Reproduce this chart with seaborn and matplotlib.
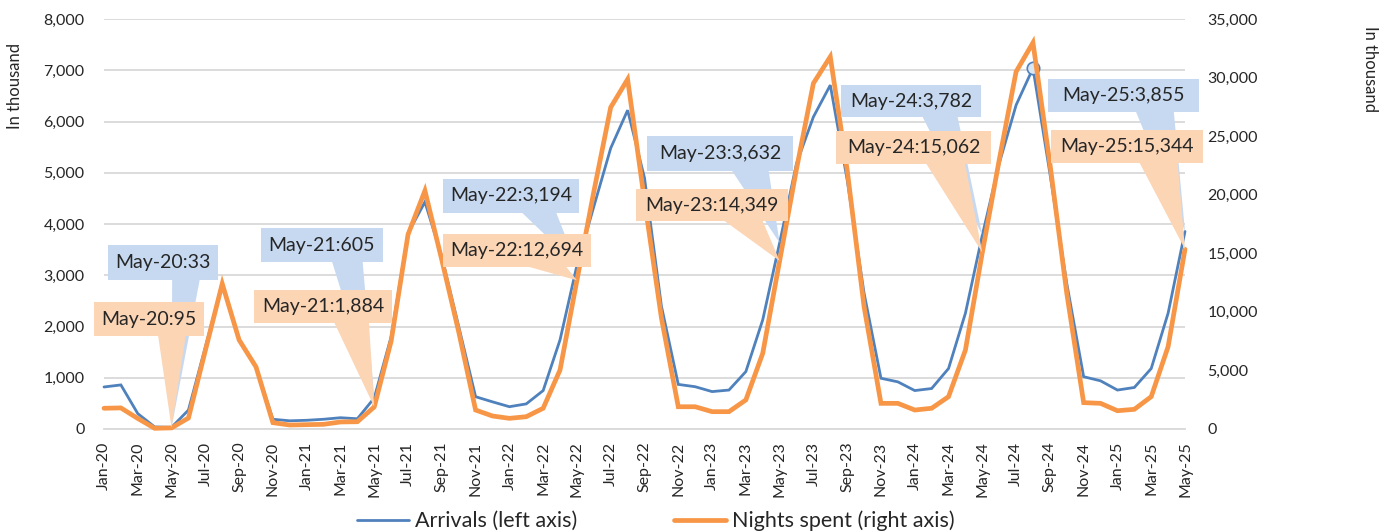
import numpy as np
import pandas as pd
import matplotlib
matplotlib.use('Agg')
import matplotlib.pyplot as plt
import seaborn as sns
from matplotlib.patches import Polygon
from matplotlib.transforms import IdentityTransform

# monthly data, in thousand
months = list(pd.date_range('2020-01-01', '2025-05-01', freq='MS').strftime('%b-%y'))

arrivals = [820, 860, 300, 40, 33, 370, 1600, 2830, 1740, 1210, 190, 160,
            170, 190, 220, 200, 605, 1800, 3820, 4430, 3360, 2000, 630, 530,
            435, 490, 750, 1740, 3194, 4340, 5480, 6220, 4900, 2400, 870, 825,
            730, 760, 1120, 2130, 3632, 5180, 6090, 6710, 4860, 2650, 990, 920,
            750, 790, 1180, 2260, 3782, 5180, 6320, 7040, 4990, 2840, 1020, 940,
            760, 810, 1180, 2260, 3855]

nights = [1770, 1800, 900, 60, 95, 940, 6700, 12400, 7600, 5300, 540, 340,
          370, 400, 600, 620, 1884, 7500, 16600, 20340, 14430, 8300, 1620, 1110,
          910, 1050, 1770, 5040, 12694, 20260, 27460, 29850, 19500, 9500, 1900, 1900,
          1480, 1480, 2480, 6460, 14349, 22200, 29510, 31780, 22100, 10440, 2190, 2190,
          1620, 1770, 2760, 6740, 15062, 22960, 30500, 32980, 22680, 11590, 2250, 2190,
          1560, 1680, 2760, 7030, 15344]

callout_months = ['May-20', 'May-21', 'May-22', 'May-23', 'May-24', 'May-25']
highlight_month = 'Aug-24'

BLUE = '#4f81bd'
ORANGE = '#f79646'
BLUE_BOX = '#c6d9f1'
ORANGE_BOX = '#fcd5b5'

# callout boxes in figure pixels: (left, right, top, bottom), y measured from top
blue_boxes = [(108, 218, 245, 280), (261, 383, 228, 262), (443, 579, 179, 213),
              (647, 793, 136, 171), (841, 981, 85, 117), (1048, 1199, 79, 112)]
orange_boxes = [(94, 204, 302, 336), (254, 392, 290, 323), (443, 591, 234, 267),
                (636, 788, 189, 221), (836, 991, 131, 164), (1051, 1203, 130, 163)]

W, H = 1392, 532
sns.set_style('white')
plt.rcParams['font.family'] = ['Lato', 'DejaVu Sans']

fig = plt.figure(figsize=(W / 100, H / 100), dpi=100)
ax = fig.add_axes([104 / W, 1 - 429 / H, (1185 - 104) / W, (429 - 19) / H])
ax2 = ax.twinx()

x = np.arange(len(months))
sns.lineplot(x=x, y=arrivals, ax=ax, color=BLUE, linewidth=2.0, legend=False)
sns.lineplot(x=x, y=nights, ax=ax2, color=ORANGE, linewidth=3.4, legend=False)
for l in ax.get_lines() + ax2.get_lines():
    l.set_clip_on(False)
    l.set_solid_joinstyle('miter')

hi = months.index(highlight_month)
ax.scatter([hi], [arrivals[hi]], s=80, color='#dbe6f4', edgecolor=BLUE,
           linewidth=1.2, zorder=5, clip_on=False)

ax.set_xlim(0, len(months) - 1)
ax.set_ylim(0, 8000)
ax2.set_ylim(0, 35000)
ax.set_yticks(range(0, 8001, 1000))
ax2.set_yticks(range(0, 35001, 5000))
ax.yaxis.set_major_formatter(matplotlib.ticker.StrMethodFormatter('{x:,.0f}'))
ax2.yaxis.set_major_formatter(matplotlib.ticker.StrMethodFormatter('{x:,.0f}'))

ax.set_xticks(x[::2])
ax.set_xticklabels(months[::2], rotation=90)
ax.set_xticks(x, minor=True)
ax.tick_params(axis='x', which='both', length=4, width=1.2, color='#d9d9d9',
               labelsize=11.5, pad=5)
ax.tick_params(axis='y', length=0, labelsize=11.5, pad=14)
ax2.tick_params(axis='y', length=0, labelsize=11.5, pad=16)

ax.grid(axis='y', color='#d9d9d9', linewidth=1.3)
ax.grid(axis='x', visible=False)
ax.set_axisbelow(True)
for a in (ax, ax2):
    for s in ('left', 'right', 'top'):
        a.spines[s].set_visible(False)
    a.spines['bottom'].set_color('#d9d9d9')
    a.spines['bottom'].set_linewidth(1.3)
ax2.spines['bottom'].set_visible(False)
ax.set_ylabel('')
ax2.set_ylabel('')

fig.text(15 / W, 1 - 86 / H, 'In thousand', rotation=90, ha='center', va='center', fontsize=12)
fig.text(1370 / W, 1 - 69 / H, 'In thousand', rotation=270, ha='center', va='center', fontsize=12)

handles = [ax.get_lines()[0], ax2.get_lines()[0]]
fig.legend(handles, ['Arrivals (left axis)', 'Nights spent (right axis)'],
           loc='center', bbox_to_anchor=(656 / W, 1 - 521 / H), ncol=2, frameon=False,
           fontsize=15.5, handlelength=2.4, handletextpad=0.3, columnspacing=4.5)


def callout_points(l, r, top, bot, tip):
    # rectangle with a wedge pointing at tip (y grows downward)
    w, h = r - l, bot - top
    dx = tip[0] - (l + r) / 2
    dy = tip[1] - (top + bot) / 2
    if abs(dy) - abs(dx * h / w) > 0:
        f1, f2 = (7, 10) if dx > 0 else (2, 5)
        xa, xb = l + w * f1 / 12, l + w * f2 / 12
        if dy > 0:
            return [(l, top), (r, top), (r, bot), (xb, bot), tip, (xa, bot), (l, bot)]
        return [(l, top), (xa, top), tip, (xb, top), (r, top), (r, bot), (l, bot)]
    f1, f2 = (7, 10) if dy > 0 else (2, 5)
    ya, yb = top + h * f1 / 12, top + h * f2 / 12
    if dx > 0:
        return [(l, top), (r, top), (r, ya), tip, (r, yb), (r, bot), (l, bot)]
    return [(l, top), (r, top), (r, bot), (l, bot), (l, yb), tip, (l, ya)]


def add_callout(axis, i, values, box, color, z):
    tx, ty = axis.transData.transform((i, values[i]))
    pts = callout_points(*box, (tx, H - ty))
    poly = Polygon([(px, H - py) for px, py in pts], closed=True, facecolor=color,
                   edgecolor='none', transform=IdentityTransform(), zorder=z)
    fig.add_artist(poly)
    cx = (box[0] + box[1]) / 2
    cy = (box[2] + box[3]) / 2
    fig.text(cx / W, 1 - cy / H, f'{months[i]}:{values[i]:,}', ha='center', va='center',
             fontsize=14, zorder=z + 0.5)


for m, b in zip(callout_months, blue_boxes):
    add_callout(ax, months.index(m), arrivals, b, BLUE_BOX, 5)
for m, b in zip(callout_months, orange_boxes):
    add_callout(ax2, months.index(m), nights, b, ORANGE_BOX, 6)

fig.savefig('out.png', dpi=100)
